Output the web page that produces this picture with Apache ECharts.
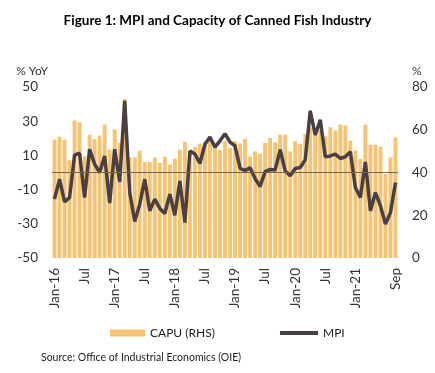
<!DOCTYPE html>
<html>
<head>
<meta charset="utf-8">
<script src="https://cdn.jsdelivr.net/npm/echarts@6/dist/echarts.min.js"></script>
<style>
html,body{margin:0;padding:0;background:#fff;}
#c{width:435px;height:373px;}
</style>
</head>
<body>
<div id="c"></div>
<script>
const titleText = "Figure 1: MPI and Capacity of Canned Fish Industry";
const sourceText = "Source: Office of Industrial Economics (OIE)";

const categories = [
 "Jan-16","Feb-16","Mar-16","Apr-16","May-16","Jun-16","Jul-16","Aug-16","Sep-16","Oct-16","Nov-16","Dec-16",
 "Jan-17","Feb-17","Mar-17","Apr-17","May-17","Jun-17","Jul-17","Aug-17","Sep-17","Oct-17","Nov-17","Dec-17",
 "Jan-18","Feb-18","Mar-18","Apr-18","May-18","Jun-18","Jul-18","Aug-18","Sep-18","Oct-18","Nov-18","Dec-18",
 "Jan-19","Feb-19","Mar-19","Apr-19","May-19","Jun-19","Jul-19","Aug-19","Sep-19","Oct-19","Nov-19","Dec-19",
 "Jan-20","Feb-20","Mar-20","Apr-20","May-20","Jun-20","Jul-20","Aug-20","Sep-20","Oct-20","Nov-20","Dec-20",
 "Jan-21","Feb-21","Mar-21","Apr-21","May-21","Jun-21","Jul-21","Aug-21","Sep-21"
];

// tick labels shown on the category axis
const tickLabels = {
 "Jan-16":"Jan-16","Jul-16":"Jul","Jan-17":"Jan-17","Jul-17":"Jul","Jan-18":"Jan-18","Jul-18":"Jul",
 "Jan-19":"Jan-19","Jul-19":"Jul","Jan-20":"Jan-20","Jul-20":"Jul","Jan-21":"Jan-21","Sep-21":"Sep"
};

// Capacity utilisation, % (right axis)
const capu = [
 55.4,56.8,55.4,45.7,64.3,63.5,47.6,57.7,55.7,57.3,62.4,50.7,
 60.1,53.8,74.4,47.0,47.1,50.2,44.9,44.9,47.0,44.5,47.4,43.7,
 46.5,50.7,54.4,50.0,52.0,53.5,54.3,55.4,54.0,50.5,54.6,51.5,
 54.7,53.6,55.7,47.5,49.9,48.8,53.8,56.1,54.1,57.7,57.7,49.9,
 54.6,53.5,58.1,61.0,57.0,60.0,56.9,61.2,59.7,62.4,62.0,54.9,
 50.3,46.3,62.4,53.0,53.0,52.1,39.3,47.1,56.5
];

// MPI, % YoY (left axis)
const mpi = [
 -15.6,-3.9,-17.2,-14.6,10.1,11.3,-14.6,13.6,4.9,0.0,9.7,-17.9,
 13.6,-5.5,41.9,-11.7,-28.7,-18.5,-3.9,-22.4,-15.6,-21.0,-24.0,-12.7,
 -25.0,-4.9,-29.3,12.5,10.8,5.3,16.5,20.7,14.8,18.5,22.7,17.8,
 15.5,2.5,1.1,2.8,-3.5,-8.2,0.5,1.8,1.4,13.3,1.0,-1.9,
 2.3,2.9,7.4,36.1,21.8,30.8,9.2,9.7,10.7,8.2,9.2,12.1,
 -8.8,-14.6,6.2,-22.4,-11.7,-19.5,-30.2,-23.4,-5.8
];

const leftTicks = {min:-50, max:50, interval:20};
const rightTicks = {min:0, max:80, interval:20};

const FONT = "Lato";
const chart = echarts.init(document.getElementById('c'), null, {renderer:'canvas'});
chart.setOption({
  animation:false,
  backgroundColor:'#ffffff',
  textStyle:{fontFamily:FONT},
  title:{
    text:titleText, left:'center', top:9,
    textStyle:{fontFamily:FONT, fontWeight:'bold', fontSize:13.5, color:'#000'}
  },
  graphic:[{
    type:'text', left:41, top:352,
    style:{text:sourceText, font:'10.5px '+FONT, fill:'#222'}
  }],
  legend:[{
    data:['CAPU (RHS)'], left:105, top:322, icon:'rect',
    itemWidth:35, itemHeight:7, itemGap:8,
    textStyle:{fontFamily:FONT, fontSize:12, color:'#222'}
  },{
    data:['MPI'], left:275, top:322, icon:'rect',
    itemWidth:38, itemHeight:4, itemGap:5,
    textStyle:{fontFamily:FONT, fontSize:12, color:'#222'}
  }],
  grid:{left:52, right:37, top:87, bottom:115, containLabel:false},
  xAxis:{
    type:'category', data:categories, boundaryGap:true,
    axisLine:{show:false}, axisTick:{show:false},
    axisLabel:{
      rotate:90, margin:10, fontSize:13.5, color:'#333', fontFamily:FONT,
      interval:function(i, v){ return tickLabels[v] !== undefined; },
      formatter:function(v){ return tickLabels[v] || ''; }
    }
  },
  yAxis:[{
    type:'value', min:leftTicks.min, max:leftTicks.max, interval:leftTicks.interval,
    name:'% YoY', nameLocation:'end', nameGap:10,
    nameTextStyle:{fontFamily:FONT, fontSize:12, color:'#333', align:'right', padding:[0,4,0,0]},
    axisLine:{show:false}, axisTick:{show:false}, splitLine:{show:false},
    axisLabel:{fontSize:13.5, color:'#333', margin:14, fontFamily:FONT}
  },{
    type:'value', min:rightTicks.min, max:rightTicks.max, interval:rightTicks.interval,
    name:'%', nameLocation:'end', nameGap:10,
    nameTextStyle:{fontFamily:FONT, fontSize:12, color:'#333', align:'left', padding:[0,0,0,14]},
    axisLine:{show:false}, axisTick:{show:false}, splitLine:{show:false},
    axisLabel:{fontSize:13.5, color:'#333', margin:14, fontFamily:FONT}
  }],
  series:[{
    name:'CAPU (RHS)', type:'bar', yAxisIndex:1, data:capu,
    barCategoryGap:'22%',
    itemStyle:{color:'#F6C373'}
  },{
    name:'MPI', type:'line', yAxisIndex:0, data:mpi,
    symbol:'none', smooth:false,
    lineStyle:{color:'#4A4043', width:3.5},
    itemStyle:{color:'#4A4043'},
    markLine:{
      silent:true, symbol:['none','none'], label:{show:false},
      lineStyle:{color:'#6E6757', width:1, type:'solid'},
      data:[{yAxis:0}]
    },
    z:3
  }]
});
</script>
</body>
</html>
